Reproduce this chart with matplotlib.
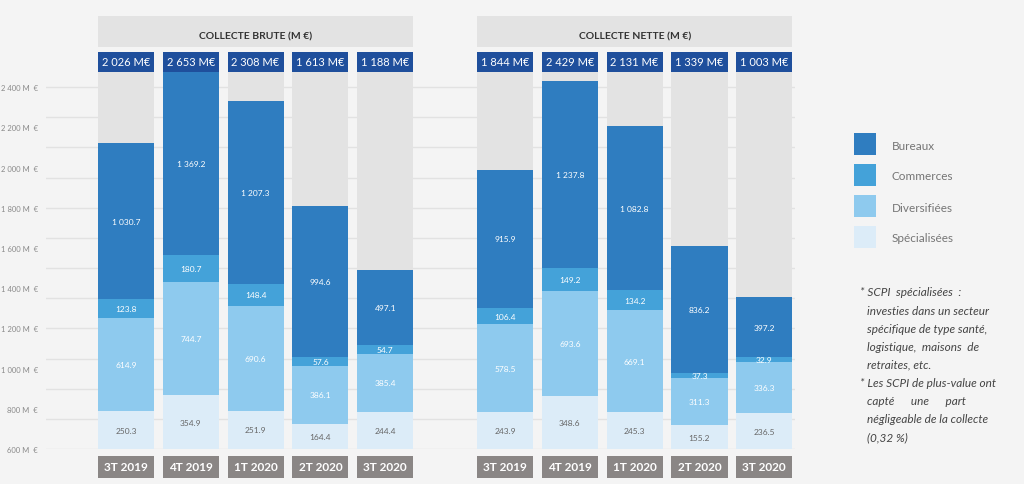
import numpy as np
import matplotlib
matplotlib.use("Agg")
import matplotlib.pyplot as plt
from matplotlib.patches import Rectangle
from matplotlib.transforms import blended_transform_factory

plt.rcParams['font.family'] = ['Lato', 'DejaVu Sans']

quarters = ['3T 2019', '4T 2019', '1T 2020', '2T 2020', '3T 2020']
categories = ['Spécialisées', 'Diversifiées', 'Commerces', 'Bureaux']

# collecte brute (M€)
brute_spec = [250.3, 354.9, 251.9, 164.4, 244.4]
brute_div = [614.9, 744.7, 690.6, 386.1, 385.4]
brute_com = [123.8, 180.7, 148.4, 57.6, 54.7]
brute_bur = [1030.7, 1369.2, 1207.3, 994.6, 497.1]
brute_tot = ['2 026 M€', '2 653 M€', '2 308 M€', '1 613 M€', '1 188 M€']

# collecte nette (M€)
nette_spec = [243.9, 348.6, 245.3, 155.2, 236.5]
nette_div = [578.5, 693.6, 669.1, 311.3, 336.3]
nette_com = [106.4, 149.2, 134.2, 37.3, 32.9]
nette_bur = [915.9, 1237.8, 1082.8, 836.2, 397.2]
nette_tot = ['1 844 M€', '2 429 M€', '2 131 M€', '1 339 M€', '1 003 M€']

axis_labels = [600, 800, 1000, 1200, 1400, 1600, 1800, 2000, 2200, 2400]

colors = ['#dcecf8', '#8ecaee', '#44a2d9', '#2f7dc0']
text_colors = ['#666666', 'white', 'white', 'white']
bg = '#f4f4f4'
col_grey = '#e3e3e3'
tot_blue = '#1f4f9c'
lab_grey = '#8a8685'

W, H = 1024, 485
fig = plt.figure(figsize=(W / 100, H / 100), dpi=100, facecolor=bg)


def fy(ypx):
    return 1 - ypx / H


def fmt(v):
    s = f"{v:.1f}"
    if v >= 1000:
        s = s[0] + ' ' + s[1:]
    return s


ax = fig.add_axes([46 / W, fy(450), 749 / W, (450 - 73) / H])
ax.set_facecolor(bg)
pitch = 64.8
ax.set_xlim((46 - 126) / pitch, (795 - 126) / pitch)
ytop = 377 * 6.6
ax.set_ylim(0, ytop)
for s in ax.spines.values():
    s.set_visible(False)
ax.set_xticks([])
ax.set_yticks([])

# faint guide lines
for g in np.linspace(0, 362 * 6.6, 13):
    ax.axhline(g, color='#e2e2e2', lw=1, zorder=0)

# left labels (decorative scale)
k = 1.3266
sec = ax.secondary_yaxis('left', functions=(lambda d: 600 + d / k, lambda v: (v - 600) * k))
sec.set_yticks(axis_labels)
sec.set_yticklabels([f"{v:,}".replace(',', ' ') + ' M  €' for v in axis_labels],
                    fontsize=5.5, color='#8a8a8a')
sec.tick_params(length=0, pad=6)
sec.spines['left'].set_visible(False)

width = 0.865
xb = np.arange(5)
xn = np.arange(5) + 5.85
trans = blended_transform_factory(ax.transData, fig.transFigure)

groups = [
    (xb, [brute_spec, brute_div, brute_com, brute_bur], brute_tot, 'COLLECTE BRUTE (M €)'),
    (xn, [nette_spec, nette_div, nette_com, nette_bur], nette_tot, 'COLLECTE NETTE (M €)'),
]

for xs, series, totals, title in groups:
    ax.bar(xs, ytop, width=width, color=col_grey, zorder=1)
    bottom = np.zeros(5)
    for vals, c, tc in zip(series, colors, text_colors):
        vals = np.array(vals)
        ax.bar(xs, vals, width=width, bottom=bottom, color=c, zorder=2)
        for x, b, v in zip(xs, bottom, vals):
            top = min(b + v, ytop)
            ax.text(x, (b + top) / 2, fmt(v), ha='center', va='center',
                    fontsize=6, color=tc, zorder=3)
        bottom = bottom + vals

    # header
    x0 = xs[0] - width / 2
    x1 = xs[-1] + width / 2
    fig.add_artist(Rectangle((x0, fy(48)), x1 - x0, 31 / H, transform=trans,
                             facecolor=col_grey, edgecolor='none'))
    fig.text((x0 + x1) / 2, fy(37), title, transform=trans, ha='center', va='center',
             fontsize=7.5, fontweight='bold', color='#333333')

    for x, t, q in zip(xs, totals, quarters):
        fig.add_artist(Rectangle((x - width / 2, fy(73)), width, 20 / H, transform=trans,
                                 facecolor=tot_blue, edgecolor='none'))
        fig.text(x, fy(63), t, transform=trans, ha='center', va='center',
                 fontsize=8, color='white')
        fig.add_artist(Rectangle((x - width / 2, fy(479)), width, 22 / H, transform=trans,
                                 facecolor=lab_grey, edgecolor='none'))
        fig.text(x, fy(468), q, transform=trans, ha='center', va='center',
                 fontsize=8.5, fontweight='bold', color='white')

# legend
for i, (cat, c) in enumerate(zip(categories[::-1], colors[::-1])):
    y = 134 + i * 31
    fig.add_artist(Rectangle((854 / W, fy(y + 22)), 22 / W, 22 / H,
                             transform=fig.transFigure, facecolor=c, edgecolor='none'))
    fig.text(892 / W, fy(y + 12), cat, ha='left', va='center', fontsize=8.5, color='#757575')

# footnote
notes = [
    (860, '* SCPI  spécialisées  :'),
    (867, 'investies dans un secteur'),
    (867, 'spécifique de type santé,'),
    (867, 'logistique,  maisons  de'),
    (867, 'retraites, etc.'),
    (860, '* Les SCPI de plus-value ont'),
    (867, 'capté      une      part'),
    (867, 'négligeable de la collecte'),
    (867, '(0,32 %)'),
]
for i, (xp, line) in enumerate(notes):
    fig.text(xp / W, fy(293 + i * 18.1), line, ha='left', va='center',
             fontsize=8.5, style='italic', color='#444444')

fig.savefig('out.png', dpi=100, facecolor=bg)
